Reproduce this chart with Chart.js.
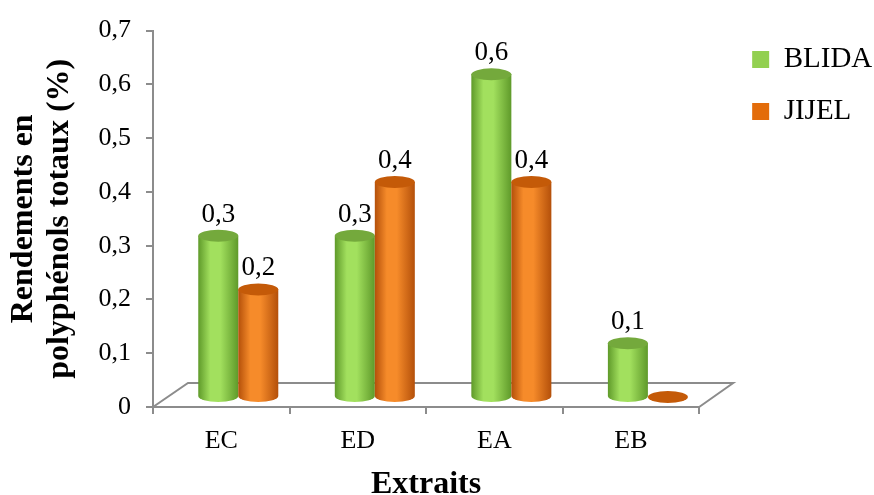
<!DOCTYPE html>
<html>
<head>
<meta charset="utf-8">
<script src="https://cdn.jsdelivr.net/npm/chart.js@4.4.1/dist/chart.umd.min.js"></script>
<style>
  html, body { margin: 0; padding: 0; background: #fff; }
  #wrap { width: 874px; height: 495px; }
</style>
</head>
<body>
<div id="wrap"><canvas id="chart_rendements" width="874" height="495"></canvas></div>
<script>
var categories = ['EC', 'ED', 'EA', 'EB']
var blida = [0.3, 0.3, 0.6, 0.1]
var jijel = [0.2, 0.4, 0.4, 0.0]
var yTicks = [0, 0.1, 0.2, 0.3, 0.4, 0.5, 0.6, 0.7]

// colours of the cylinders: edge, light, top, legend
var cores = {
    BLIDA: ['#5f9a2a', '#a2e05e', '#74a93c', '#92d050'],
    JIJEL: ['#b4500a', '#f68b2a', '#c45a08', '#e36c0a']
}
var depthX = 17, depthY = -10
var serif = "'Liberation Serif', 'Times New Roman', serif"

function fmt(v) {
    return v.toFixed(1).replace('.', ',').replace(/^0,0$/, '0')
}

// floor of the 3D chart
var floorPlugin = {
    id: 'floor',
    beforeDatasetsDraw: function(chart) {
        var a = chart.chartArea, c = chart.ctx
        c.save()
        c.strokeStyle = '#8c8c8c'
        c.lineWidth = 2
        c.beginPath()
        c.moveTo(a.left, a.bottom)
        c.lineTo(a.left + 2 * depthX + 1, a.bottom - 24)
        c.lineTo(a.right + 2 * depthX, a.bottom - 24)
        c.lineTo(a.right, a.bottom)
        c.stroke()
        c.restore()
    }
}

// cylinders + value labels
var cylinderPlugin = {
    id: 'cylinders',
    afterDatasetsDraw: function(chart) {
        var c = chart.ctx
        chart.data.datasets.forEach(function(ds, di) {
            var meta = chart.getDatasetMeta(di)
            var col = cores[ds.label]
            meta.data.forEach(function(el, i) {
                var w = el.width
                var cx = el.x + depthX
                var left = cx - w / 2, right = cx + w / 2
                var top = el.y + depthY, base = el.base + depthY
                var ry = 6
                c.save()
                if (base - top > 0.5) {
                    var g = c.createLinearGradient(left, 0, right, 0)
                    g.addColorStop(0, col[0])
                    g.addColorStop(0.3, col[1])
                    g.addColorStop(0.55, col[1])
                    g.addColorStop(1, col[0])
                    c.fillStyle = g
                    c.beginPath()
                    c.moveTo(left, top)
                    c.lineTo(left, base)
                    c.ellipse(cx, base, w / 2, ry, 0, Math.PI, 0, true)
                    c.lineTo(right, top)
                    c.closePath()
                    c.fill()
                }
                c.fillStyle = col[2]
                c.beginPath()
                c.ellipse(cx, top, w / 2, ry, 0, 0, Math.PI * 2)
                c.fill()
                c.restore()

                var v = ds.data[i]
                if (v > 0) {
                    c.save()
                    c.fillStyle = '#000'
                    c.font = '27px ' + serif
                    c.textAlign = 'center'
                    c.textBaseline = 'alphabetic'
                    c.fillText(fmt(v), cx, top - ry - 8)
                    c.restore()
                }
            })
        })
    }
}

var ctx = document.getElementById('chart_rendements')

var chartRendements = new Chart(ctx, {
    type: 'bar',
    data: {
        labels: categories,
        datasets: [
            { label: 'BLIDA', data: blida, backgroundColor: 'rgba(0,0,0,0)', borderWidth: 0 },
            { label: 'JIJEL', data: jijel, backgroundColor: 'rgba(0,0,0,0)', borderWidth: 0 }
        ]
    },
    options: {
        responsive: false,
        animation: false,
        devicePixelRatio: 1,
        categoryPercentage: 0.586,
        barPercentage: 1,
        layout: { padding: { top: 22, left: 5, right: 0, bottom: 0 } },
        plugins: {
            tooltip: { enabled: false },
            legend: {
                position: 'right',
                align: 'start',
                labels: {
                    color: '#000',
                    boxWidth: 17,
                    boxHeight: 17,
                    padding: 23,
                    font: { family: serif, size: 29 },
                    generateLabels: function(chart) {
                        return chart.data.datasets.map(function(ds, i) {
                            return {
                                text: ds.label,
                                fillStyle: cores[ds.label][3],
                                strokeStyle: cores[ds.label][3],
                                lineWidth: 0,
                                fontColor: '#000',
                                datasetIndex: i
                            }
                        })
                    }
                }
            }
        },
        scales: {
            x: {
                afterFit: function(scale) { scale.height = 88 },
                grid: { display: true, offset: true, drawOnChartArea: false, tickLength: 7, color: '#8c8c8c', lineWidth: 2 },
                border: { display: true, color: '#8c8c8c', width: 2 },
                ticks: { color: '#000', padding: 12, font: { family: serif, size: 26 } },
                title: {
                    display: true,
                    text: 'Extraits',
                    color: '#000',
                    padding: { top: 0, bottom: -6 },
                    font: { family: serif, size: 32, weight: 'bold', lineHeight: 1 }
                }
            },
            y: {
                min: 0,
                max: 0.7,
                afterFit: function(scale) { scale.width = 153 - 5 },
                afterBuildTicks: function(scale) {
                    scale.ticks = yTicks.map(function(v) { return { value: v } })
                },
                grid: { display: true, drawOnChartArea: false, tickLength: 7, color: '#8c8c8c', lineWidth: 2 },
                border: { display: true, color: '#8c8c8c', width: 2 },
                ticks: {
                    color: '#000',
                    padding: 15,
                    font: { family: serif, size: 26 },
                    callback: function(value) { return fmt(value) }
                },
                title: {
                    display: true,
                    text: ['Rendements en', 'polyphénols totaux (%)'],
                    color: '#000',
                    padding: { top: 0, bottom: 0 },
                    font: { family: serif, size: 32, weight: 'bold', lineHeight: 1.15 }
                }
            },
            // empty space between the floor and the legend
            gap: {
                position: 'right',
                display: true,
                afterFit: function(scale) { scale.width = 30 },
                grid: { display: false },
                border: { display: false },
                ticks: { display: false }
            }
        }
    },
    plugins: [floorPlugin, cylinderPlugin]
})
</script>
</body>
</html>
